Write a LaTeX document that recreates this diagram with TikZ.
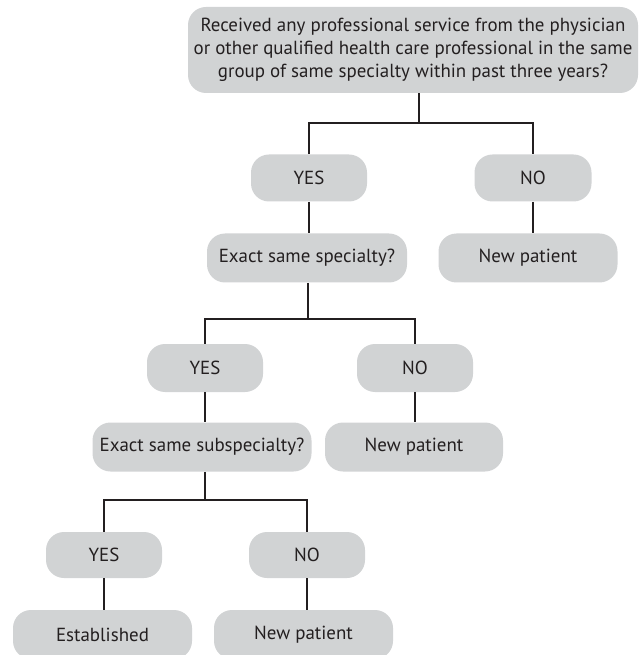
\documentclass[tikz,border=0pt]{standalone}
\usepackage{fontspec}
\setmainfont{PT Sans}
\newdimen\px \px=0.75pt
\definecolor{boxgray}{HTML}{D1D3D4}
\definecolor{txt}{HTML}{231F20}
\tikzset{
  fbox/.style={fill=boxgray, rounded corners=18\px, text=txt, inner sep=0pt, align=center, font=\fontsize{14.2}{17.3}\selectfont},
  conn/.style={line width=2\px, draw=txt},
}
\begin{document}
\begin{tikzpicture}[x=0.75pt,y=-0.75pt]
\useasboundingbox (0,0) rectangle (640,655);
\node[fbox, minimum width=450\px, minimum height=86\px] (top) at (413,50)
  {Received any professional service from the physician\\or other qualified health care professional in the same\\group of same specialty within past three years?};
\node[fbox, minimum width=116\px, minimum height=47\px] (yes1) at (309,178) {YES};
\node[fbox, minimum width=117\px, minimum height=47\px] (no1) at (533,178) {NO};
\node[fbox, minimum width=200\px, minimum height=49\px] (spec) at (307,258) {Exact same specialty?};
\node[fbox, minimum width=179\px, minimum height=49\px] (np1) at (528,258) {New patient};
\node[fbox, minimum width=116\px, minimum height=48\px] (yes2) at (205,368) {YES};
\node[fbox, minimum width=116\px, minimum height=48\px] (no2) at (415,368) {NO};
\node[fbox, minimum width=219\px, minimum height=49\px] (sub) at (202,447) {Exact same subspecialty?};
\node[fbox, minimum width=178\px, minimum height=49\px] (np2) at (414,447) {New patient};
\node[fbox, minimum width=116\px, minimum height=46\px] (yes3) at (104,555) {YES};
\node[fbox, minimum width=116\px, minimum height=46\px] (no3) at (307,555) {NO};
\node[fbox, minimum width=179\px, minimum height=49\px] (est) at (102.5,634.5) {Established};
\node[fbox, minimum width=179\px, minimum height=49\px] (np3) at (303.5,634.5) {New patient};
\coordinate (j1) at (419,123);
\coordinate (j2) at (308,319);
\coordinate (j3) at (205,500);
\draw[conn] (top.south -| j1) -- (j1);
\draw[conn] (yes1.north) -- (yes1.north |- j1) -- (no1.north |- j1) -- (no1.north);
\draw[conn] (yes1.south) -- (spec.north -| yes1.south);
\draw[conn] (no1.south) -- (np1.north -| no1.south);
\draw[conn] (spec.south -| j2) -- (j2);
\draw[conn] (yes2.north) -- (yes2.north |- j2) -- (no2.north |- j2) -- (no2.north);
\draw[conn] (yes2.south) -- (sub.north -| yes2.south);
\draw[conn] (no2.south) -- (np2.north -| no2.south);
\draw[conn] (sub.south -| j3) -- (j3);
\draw[conn] (yes3.north) -- (yes3.north |- j3) -- (no3.north |- j3) -- (no3.north);
\draw[conn] (yes3.south) -- (est.north -| yes3.south);
\draw[conn] (no3.south) -- (np3.north -| no3.south);
\end{tikzpicture}
\end{document}
